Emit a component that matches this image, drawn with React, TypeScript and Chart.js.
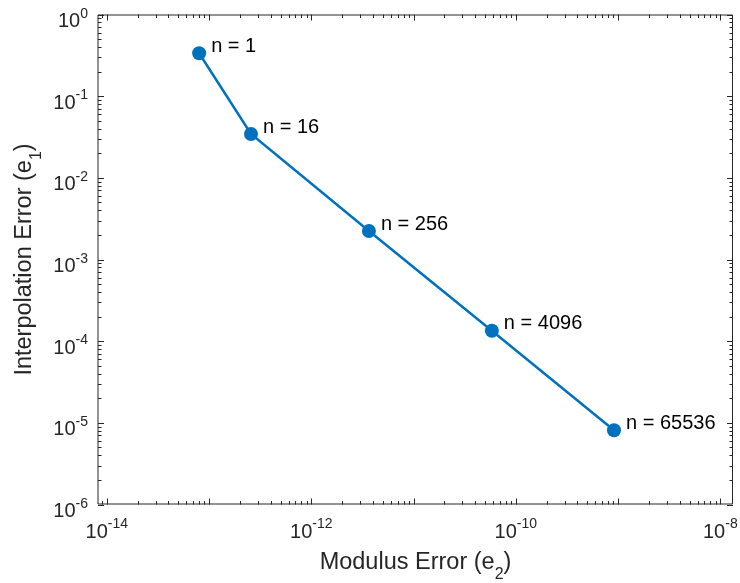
import React, { useEffect, useRef } from "react";
import { Chart, registerables } from "chart.js";

Chart.register(...registerables);

// Convergence data: modulus error (e2) vs interpolation error (e1) per n
const nValues = [1, 16, 256, 4096, 65536];
const modulusError = [8.0e-14, 2.57e-13, 3.66e-12, 5.83e-11, 9.12e-10];
const interpolationError = [0.335, 0.0344, 0.00223, 1.34e-4, 8.13e-6];

// Axis limits and labelled decades
const xMin = 8.2e-15;
const xMax = 1.33e-8;
const yMin = 1e-6;
const yMax = 1;
const xTickExponents = [-14, -12, -10, -8];
const yTickExponents = [0, -1, -2, -3, -4, -5, -6];

const FONT = '"Liberation Sans", Arial, Helvetica, sans-serif';
const AXIS_COLOR = "#262626";
const LINE_COLOR = "#0072BD";

function superscriptText(exp: number): string {
  return exp < 0 ? "-" + Math.abs(exp) : String(exp);
}

const axesPlugin = {
  id: "matlabAxes",
  afterDraw(chart: any) {
    const ctx: CanvasRenderingContext2D = chart.ctx;
    const { left, right, top, bottom } = chart.chartArea;
    const xs = chart.scales.x;
    const ys = chart.scales.y;
    ctx.save();

    // box
    ctx.strokeStyle = AXIS_COLOR;
    ctx.lineWidth = 1;
    ctx.beginPath();
    ctx.moveTo(left, top + 0.5);
    ctx.lineTo(right - 0.5, top + 0.5);
    ctx.lineTo(right - 0.5, bottom - 0.5);
    ctx.lineTo(left, bottom - 0.5);
    ctx.closePath();
    ctx.stroke();

    // tick marks, inward on all four sides
    const majorLen = 6;
    const minorLen = 3.5;
    ctx.beginPath();
    const xLo = Math.floor(Math.log10(xMin));
    const xHi = Math.ceil(Math.log10(xMax));
    for (let d = xLo; d <= xHi; d++) {
      for (let k = 1; k <= 9; k++) {
        const v = k * Math.pow(10, d);
        if (v < xMin || v > xMax) continue;
        const px = Math.round(xs.getPixelForValue(v)) + 0.5;
        const len = k === 1 ? majorLen : minorLen;
        ctx.moveTo(px, bottom);
        ctx.lineTo(px, bottom - len);
        ctx.moveTo(px, top);
        ctx.lineTo(px, top + len);
      }
    }
    const yLo = Math.floor(Math.log10(yMin));
    const yHi = Math.ceil(Math.log10(yMax));
    for (let d = yLo; d <= yHi; d++) {
      for (let k = 1; k <= 9; k++) {
        const v = k * Math.pow(10, d);
        if (v < yMin * 0.999 || v > yMax * 1.001) continue;
        const py = Math.round(ys.getPixelForValue(v)) + 0.5;
        const len = k === 1 ? majorLen : minorLen;
        ctx.moveTo(left, py);
        ctx.lineTo(left + len, py);
        ctx.moveTo(right, py);
        ctx.lineTo(right - len, py);
      }
    }
    ctx.stroke();

    // tick labels 10^n
    const baseFont = `20px ${FONT}`;
    const supFont = `14px ${FONT}`;
    ctx.fillStyle = AXIS_COLOR;
    ctx.textBaseline = "alphabetic";
    ctx.textAlign = "left";
    for (const e of xTickExponents) {
      const px = xs.getPixelForValue(Math.pow(10, e));
      ctx.font = baseFont;
      const wb = ctx.measureText("10").width;
      ctx.font = supFont;
      const sup = superscriptText(e);
      const ws = ctx.measureText(sup).width;
      const x0 = px - (wb + ws) / 2;
      ctx.font = baseFont;
      ctx.fillText("10", x0, bottom + 33);
      ctx.font = supFont;
      ctx.fillText(sup, x0 + wb, bottom + 23.5);
    }
    for (const e of yTickExponents) {
      const py = ys.getPixelForValue(Math.pow(10, e));
      ctx.font = baseFont;
      const wb = ctx.measureText("10").width;
      ctx.font = supFont;
      const sup = superscriptText(e);
      const ws = ctx.measureText(sup).width;
      const xEnd = left - 10;
      ctx.font = baseFont;
      ctx.fillText("10", xEnd - ws - wb, py + 12.5);
      ctx.font = supFont;
      ctx.fillText(sup, xEnd - ws, py + 3);
    }

    // axis titles with subscripts
    const titleFont = `23.5px ${FONT}`;
    const subFont = `16px ${FONT}`;
    const drawTitle = (pre: string, sub: string, post: string, cx: number, baseY: number) => {
      ctx.font = titleFont;
      const w1 = ctx.measureText(pre).width;
      const w3 = ctx.measureText(post).width;
      ctx.font = subFont;
      const w2 = ctx.measureText(sub).width;
      let x = cx - (w1 + w2 + w3) / 2;
      ctx.font = titleFont;
      ctx.fillText(pre, x, baseY);
      x += w1;
      ctx.font = subFont;
      ctx.fillText(sub, x, baseY + 10);
      x += w2;
      ctx.font = titleFont;
      ctx.fillText(post, x, baseY);
    };
    drawTitle("Modulus Error (e", "2", ")", (left + right) / 2, 569);
    ctx.save();
    ctx.translate(31, (top + bottom) / 2);
    ctx.rotate(-Math.PI / 2);
    drawTitle("Interpolation Error (e", "1", ")", 0, 0);
    ctx.restore();

    // point annotations
    const meta = chart.getDatasetMeta(0);
    ctx.font = `20px ${FONT}`;
    ctx.fillStyle = "#000000";
    ctx.textBaseline = "middle";
    meta.data.forEach((pt: any, i: number) => {
      ctx.fillText(`n = ${nValues[i]}`, pt.x + 12, pt.y - 7);
    });

    ctx.restore();
  },
};

export default function App() {
  const canvasRef = useRef<HTMLCanvasElement | null>(null);

  useEffect(() => {
    document.body.style.margin = "0";
    const canvas = canvasRef.current;
    if (!canvas) return;
    const chart = new Chart(canvas, {
      type: "line",
      data: {
        datasets: [
          {
            data: modulusError.map((x, i) => ({ x, y: interpolationError[i] })),
            borderColor: LINE_COLOR,
            backgroundColor: LINE_COLOR,
            borderWidth: 2.5,
            pointRadius: 7,
            pointHoverRadius: 7,
            pointBackgroundColor: LINE_COLOR,
            pointBorderColor: LINE_COLOR,
            pointBorderWidth: 0,
            tension: 0,
          },
        ],
      },
      options: {
        animation: false,
        responsive: false,
        devicePixelRatio: 1,
        layout: { padding: { left: 98, right: 5, top: 14.5, bottom: 78.5 } },
        plugins: { legend: { display: false }, tooltip: { enabled: false } },
        events: [],
        scales: {
          x: {
            type: "logarithmic",
            min: xMin,
            max: xMax,
            grid: { display: false, drawTicks: false },
            border: { display: false },
            ticks: { display: false },
            afterFit: (s: any) => {
              s.height = 0;
            },
          },
          y: {
            type: "logarithmic",
            min: yMin,
            max: yMax,
            grid: { display: false, drawTicks: false },
            border: { display: false },
            ticks: { display: false },
            afterFit: (s: any) => {
              s.width = 0;
            },
          },
        },
      },
      plugins: [axesPlugin],
    });
    return () => chart.destroy();
  }, []);

  return (
    <div style={{ width: 740, height: 583, background: "#ffffff" }}>
      <canvas ref={canvasRef} width={740} height={583} style={{ display: "block" }} />
    </div>
  );
}
